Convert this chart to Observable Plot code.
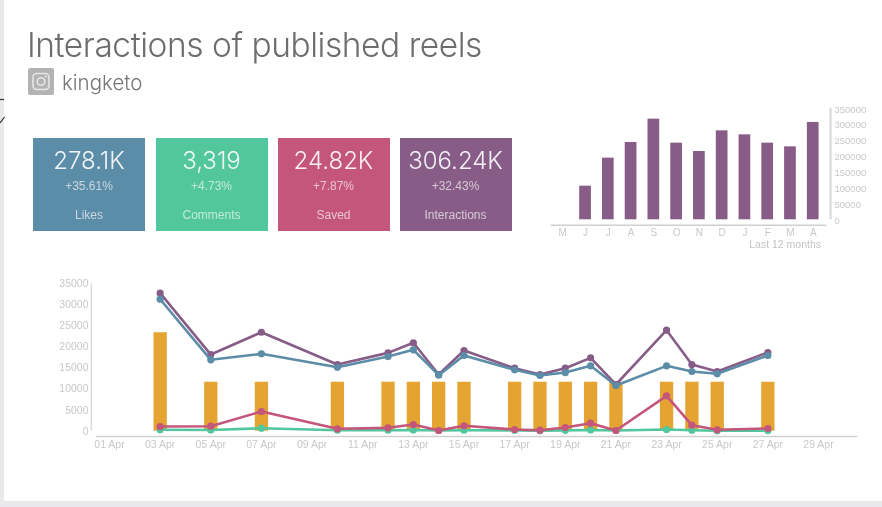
<!DOCTYPE html>
<html><head><meta charset="utf-8">
<script src="https://cdn.jsdelivr.net/npm/d3@7"></script>
<script src="https://cdn.jsdelivr.net/npm/@observablehq/plot@0.6"></script>
<style>
html,body{margin:0;padding:0;background:#fff;}
#page{position:relative;width:882px;height:507px;overflow:hidden;background:#fff;font-family:"Liberation Sans",sans-serif;font-weight:300;filter:blur(0.55px);}
.abs{position:absolute;}
#page svg{background:transparent;}
.card{position:absolute;top:138px;height:93px;text-align:center;color:#fff;}
.card div{position:absolute;left:0;right:0;}
</style></head><body>
<div id="page">
  <div class="abs" style="left:0;top:0;width:4px;height:507px;background:#e9e9ec"></div>
  <div class="abs" style="left:0;top:501px;width:882px;height:6px;background:#e9e9ec"></div>
  <svg class="abs" style="left:0;top:90px" width="6" height="40" viewBox="0 0 6 40">
    <path d="M0 9.5H4" stroke="#333" stroke-width="1.2" fill="none"/>
    <path d="M0 33L4.5 27" stroke="#333" stroke-width="1.2" fill="none"/>
  </svg>
  <div class="abs" id="title" style="left:27px;top:25px;font-family:Inter,'Liberation Sans';font-weight:300;font-size:33.5px;letter-spacing:-0.45px;color:#6d6d6d;white-space:nowrap">Interactions of published reels</div>
  <svg class="abs" style="left:28px;top:68px" width="26" height="27" viewBox="0 0 26 27">
    <rect x="0" y="0" width="26" height="27" rx="2" fill="#b3b3b3"/>
    <rect x="5" y="5.5" width="16" height="16" rx="4" fill="none" stroke="#e6e6e6" stroke-width="1.6"/>
    <circle cx="13" cy="13.5" r="3.8" fill="none" stroke="#e6e6e6" stroke-width="1.6"/>
    <circle cx="18" cy="8.5" r="1" fill="#e6e6e6"/>
  </svg>
  <div class="abs" style="left:62px;top:70px;font-family:Inter,'Liberation Sans';font-weight:300;font-size:20.5px;color:#757575">kingketo</div>
  <div id="cards"></div>
  <div class="abs" style="right:61px;top:238px;font-size:10.5px;color:#c4c4c4;font-family:'Liberation Sans'">Last 12 months</div>
</div>
<script>
// KPI cards
const cardValues = ["278.1K", "3,319", "24.82K", "306.24K"];
const cardChanges = ["+35.61%", "+4.73%", "+7.87%", "+32.43%"];
const cardLabels = ["Likes", "Comments", "Saved", "Interactions"];
const cardColors = ["#5b8ca8", "#52c69c", "#c4567b", "#875d88"];
const cardLeft = [33, 155.5, 277.5, 399.5];

// monthly interactions
const monthLabels = ["M","J","J","A","S","O","N","D","J","F","M","A"];
const monthValues = [0,105800,193900,243100,316500,241000,214800,279800,267200,241000,229500,306240];

// daily series
const days = [3,5,7,10,12,13,14,15,17,18,19,20,21,23,24,25,27];
const interactions = [32770,18200,23500,15830,18600,21000,13460,19150,14960,13460,14960,17420,11090,23980,15830,14170,18680];
const likes = [31340,16950,18370,15190,17730,19320,13300,17970,14580,13220,13930,15520,10850,15520,14170,13630,17970];
const saved = [1110,1190,4680,570,800,1590,170,1280,400,240,880,1900,170,8400,1420,330,640];
const comments = [330,300,710,230,230,300,170,230,200,100,200,300,170,400,240,100,150];
const published = [23360,11630,11630,11630,11630,11630,11630,11630,11630,11630,11630,11630,11630,11630,11630,11630,11630];

const cardsEl = document.getElementById("cards");
cardValues.forEach((v,i)=>{
  const c=document.createElement("div");
  c.className="card";
  c.style.cssText=`left:${cardLeft[i]}px;width:112px;background:${cardColors[i]}`;
  c.innerHTML=`<div style="top:8px;font-size:24px;opacity:.9;font-family:Inter,'Liberation Sans';font-weight:300">${v}</div>
  <div style="top:41px;font-size:12px;opacity:.65">${cardChanges[i]}</div>
  <div style="top:70px;font-size:12px;opacity:.65">${cardLabels[i]}</div>`;
  cardsEl.appendChild(c);
});

const page=document.getElementById("page");
const place=(el,l,t)=>{el.style.position="absolute";el.style.left=l+"px";el.style.top=t+"px";page.appendChild(el);};

// Monthly bars
const top12=Plot.plot({
  width:882,height:170,marginLeft:551,marginRight:57,marginTop:10,marginBottom:35.3,
  style:{fontFamily:"'Liberation Sans',sans-serif",background:"transparent",overflow:"visible"},
  x:{type:"band",domain:d3.range(12),range:[550.9,824.1],paddingInner:0.486,paddingOuter:0.243,round:false},
  y:{domain:[0,350000],range:[129.3,18]},
  marks:[
    Plot.frame({anchor:"bottom",stroke:"#cfcfcf",strokeWidth:1.5,strokeOpacity:1}),
    Plot.barY(monthValues,{x:(d,i)=>i,y:d=>d,fill:"#875d88"}),
    Plot.ruleX([11],{x:d=>d,dx:17.3,y1:0,y2:350000,stroke:"#d6d6d6",strokeWidth:2}),
    Plot.axisY({anchor:"right",ticks:d3.range(0,350001,50000),tickSize:0,tickFormat:d=>String(d),dx:0,dy:1,fontSize:9.5,color:"#c8c8c8",label:null}),
    Plot.axisX({anchor:"bottom",tickSize:0,tickPadding:3.5,tickFormat:i=>monthLabels[i],fontSize:10,color:"#c8c8c8",label:null})
  ]
});
place(top12,0,90);

// Daily chart
const D=d=>new Date(Date.UTC(2023,3,d));
const dates=days.map(D);
const tickDays=d3.range(1,30,2);
const series=[[comments,"#52c69c"],[saved,"#c4567b"],[interactions,"#875d88"],[likes,"#5b8ca8"]];
const daily=Plot.plot({
  width:882,height:190,marginLeft:96,marginRight:26,marginTop:10,marginBottom:24,
  style:{fontFamily:"'Liberation Sans',sans-serif",background:"transparent",overflow:"visible"},
  x:{type:"utc",domain:[D(1),D(29)],range:[109,818]},
  y:{domain:[0,35000],range:[160.7,13.3]},
  marks:[
    Plot.frame({anchor:"bottom",stroke:"#cfcfcf",strokeWidth:1.5,strokeOpacity:1}),
    Plot.ruleX([D(1)],{x:d=>d,dx:-18.3,y1:0,y2:35000,stroke:"#dcdcdc",strokeWidth:1.5}),
    Plot.ruleX(published,{x:dates,y1:0,y2:d=>d,stroke:"#e5a431",strokeWidth:13.3}),
    ...series.flatMap(([vals,col])=>[
      Plot.line(vals,{x:dates,y:d=>d,stroke:col,strokeWidth:2.6,curve:"linear"}),
      Plot.dot(vals,{x:dates,y:d=>d,fill:col,r:3.6})
    ]),
    Plot.axisY({anchor:"left",ticks:d3.range(0,35001,5000),tickSize:0,tickFormat:d=>String(d),dx:1,fontSize:10.5,color:"#c8c8c8",label:null}),
    Plot.axisX({anchor:"bottom",ticks:tickDays.map(D),tickSize:0,tickPadding:4,tickFormat:d3.utcFormat("%d Apr"),fontSize:10.5,color:"#c8c8c8",label:null})
  ]
});
place(daily,0,270);
</script>
</body></html>
